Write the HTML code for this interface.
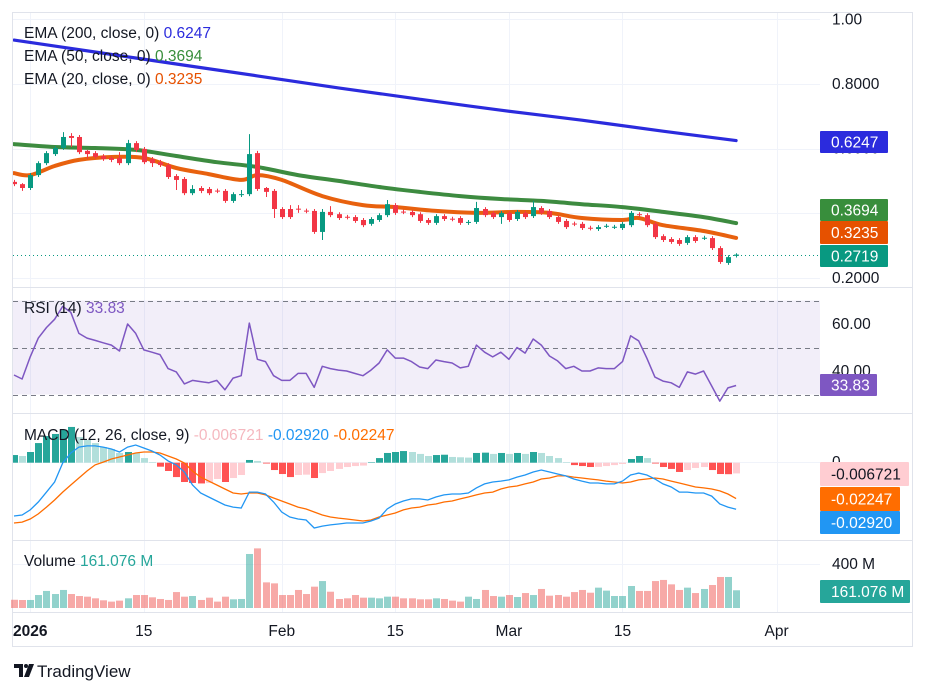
<!DOCTYPE html>
<html><head><meta charset="utf-8">
<style>
html,body{margin:0;padding:0;background:#fff;}
svg{display:block;font-family:"Liberation Sans",Arial,sans-serif;}
</style></head>
<body>
<svg id="chart" width="927" height="694" viewBox="0 0 927 694" xmlns="http://www.w3.org/2000/svg">
  <rect x="0" y="0" width="927" height="694" fill="#ffffff"/>
  <rect x="12.5" y="12.5" width="900" height="634" fill="none" stroke="#e0e3eb"/>
  <g id="grid"></g>
  <g id="panes"></g>
  <g id="labels"></g>
</svg>
<script>
// ---------- DATA ----------
const opens = [.497,.490,.478,.518,.555,.583,.602,.639,.636,.593,
.586,.577,.571,.571,.555,.617,.599,.568,.558,.549,
.515,.506,.462,.478,.475,.470,.469,.438,.456,.459,
.586,.478,.469,.413,.413,.414,.408,.407,.342,.404,
.397,.389,.388,.379,.367,.379,.394,.425,.405,.404,
.397,.379,.370,.391,.383,.385,.370,.373,.413,.401,
.388,.401,.382,.401,.391,.416,.407,.388,.376,.368,
.367,.355,.351,.359,.356,.354,.363,.397,.394,.367,
.329,.320,.317,.308,.326,.322,.323,.292,.246,.268];
const closes = [.490,.478,.518,.555,.586,.602,.636,.633,.589,.583,
.574,.568,.565,.555,.617,.596,.558,.555,.549,.512,
.503,.462,.475,.469,.462,.468,.438,.459,.459,.583,
.475,.466,.413,.388,.388,.412,.406,.342,.404,.394,
.385,.387,.376,.363,.382,.394,.428,.401,.403,.394,
.376,.370,.391,.382,.381,.370,.373,.416,.394,.388,
.401,.379,.404,.388,.419,.401,.388,.373,.357,.366,
.354,.353,.357,.361,.358,.367,.401,.394,.363,.326,
.317,.311,.305,.326,.314,.324,.292,.249,.264,.2719];
const highs = [.503,.493,.524,.561,.592,.608,.651,.648,.642,.596,
.592,.583,.577,.589,.627,.623,.605,.574,.565,.555,
.521,.512,.487,.484,.481,.476,.475,.465,.472,.645,
.593,.481,.475,.419,.425,.425,.414,.413,.413,.422,
.403,.395,.394,.385,.388,.400,.441,.431,.411,.410,
.403,.385,.397,.397,.389,.391,.379,.435,.419,.407,
.407,.407,.410,.407,.438,.422,.413,.394,.382,.374,
.373,.361,.363,.367,.364,.373,.407,.403,.400,.373,
.335,.326,.323,.332,.332,.330,.329,.298,.270,.276];
const lows = [.484,.469,.472,.512,.549,.577,.596,.605,.583,.568,
.568,.562,.558,.549,.549,.589,.552,.543,.543,.506,
.472,.456,.456,.462,.456,.462,.432,.432,.450,.453,
.469,.450,.385,.382,.382,.401,.400,.336,.317,.388,
.379,.381,.370,.357,.361,.373,.388,.395,.397,.388,
.370,.364,.364,.376,.375,.364,.364,.367,.388,.382,
.367,.373,.376,.382,.385,.395,.382,.367,.351,.360,
.348,.347,.345,.354,.351,.348,.357,.388,.357,.320,
.311,.305,.299,.302,.308,.317,.286,.243,.240,.263];
const volumesM = [75,72.7,73,118,155,127,164,127,109,103,
88,70,58,67,88,118,118,97,82,73,145,
103,109,73,94,58,103,79,82,491,542,
233,224,118,118,164,127,194,245,148,82,
88,118,94,94,88,103,103,88,88,
79,79,88,82,67,58,103,82,164,109,
103,118,100,136,118,173,112,118,103,145,
164,139,185,158,109,109,200,155,155,245,
255,215,164,185,136,173,209,282,282,161.076];
const ema200Idx = [0,10,20,30,40,50,60,70,80,89];
const ema200 = [.936,.899,.862,.825,.788,.753,.719,.688,.654,.6247];
const ema50Idx = [0,5,10,15,20,25,30,35,40,45,50,55,60,65,70,75,80,85,89];
const ema50 = [.614,.605,.602,.596,.577,.558,.543,.518,.500,.481,.466,.453,.444,.438,.428,.419,.404,.388,.3694];
const ema20Idx = [0,2,5,8,12,16,20,24,28,30,33,38,43,47,52,57,62,66,70,75,77,80,85,89];
const ema20 = [.524,.518,.546,.565,.574,.571,.540,.521,.503,.518,.503,.453,.425,.419,.407,.401,.404,.401,.385,.379,.385,.363,.345,.3235];
const rsi = [38.3,36.6,46,54,58.5,62,67.5,65,56,54,
53,52,51,48.5,60,56,49,48,47,41,
39.6,34.5,36,35.5,35,36,32,37,38,60.4,
45,44,38,36,36,39,39,33,42,41,
40.4,40,39,38,40.4,43.4,49,45.5,45.5,44,
41.7,41,44.7,44,43.4,41.3,42,51,48,46,
48,45,50,47.6,53.6,51,46.4,44.3,41,42,
40,40,41.3,41,41,44,55,52.8,45.5,37.4,
35.7,35,33,39.6,38.7,40,33.6,27.2,32.8,33.83];
// MACD values in thousandths (x 1e-3)
const macdLine = [-33.4,-32.8,-29.6,-24.6,-18.4,-12.1,-0.2,6.1,9.8,10.5,
10.5,9.8,8.6,6.7,9.8,11.1,9.2,7.3,4.8,1.1,
-1.4,-5.8,-14.0,-19.0,-21.5,-24.0,-26.5,-27.8,-28.4,-18.4,
-18.4,-19.6,-24.6,-30.9,-34.0,-35.3,-35.9,-40.9,-39.7,-39.0,
-38.4,-37.8,-37.8,-37.8,-36.5,-34.7,-29.0,-25.9,-24.0,-22.7,
-22.7,-23.4,-21.5,-20.2,-19.6,-19.6,-19.0,-15.8,-13.3,-12.1,
-11.5,-10.8,-9.0,-7.7,-5.8,-4.6,-5.8,-7.1,-8.3,-10.2,
-11.5,-12.7,-12.7,-13.3,-13.3,-11.5,-7.7,-6.5,-7.7,-10.2,
-13.3,-15.2,-18.4,-18.4,-19.0,-19.0,-20.9,-25.9,-27.8,-29.2];
const signalLine = [-37.8,-37.2,-35.3,-32.1,-27.8,-23.4,-18.4,-14.0,-9.6,-5.2,
-1.4,0.4,2.3,3.6,4.8,6.1,6.7,6.7,6.1,4.2,
2.3,-0.2,-5.2,-9.0,-11.5,-14.0,-16.5,-19.0,-19.6,-19.0,
-19.0,-20.2,-22.1,-24.0,-25.9,-27.8,-29.0,-30.9,-32.8,-34.0,
-34.7,-35.3,-35.9,-36.5,-35.9,-34.0,-32.8,-31.5,-29.6,-28.4,
-27.8,-26.5,-25.9,-24.6,-24.0,-22.7,-21.5,-20.2,-19.0,-18.4,
-16.5,-15.2,-14.6,-13.3,-12.1,-10.2,-9.6,-8.3,-8.3,-9.0,
-9.6,-10.2,-10.8,-11.5,-12.1,-12.7,-12.1,-10.8,-10.2,-9.6,
-10.2,-11.5,-12.7,-14.0,-15.2,-15.8,-16.5,-17.7,-19.6,-22.47];
const macdHist = [4.8,4.2,6.7,12.3,16.7,18.0,20.5,22.4,16.1,14.2,
12.3,9.8,8.6,6.1,6.7,6.1,2.9,0.4,-2.5,-5.2,
-9.0,-12.1,-12.7,-13.0,-12.7,-10.2,-12.1,-9.6,-7.7,1.7,
1.1,-0.5,-4.6,-7.1,-9.0,-7.7,-7.5,-9.6,-6.5,-5.2,
-3.9,-2.7,-2.1,-1.8,0.3,2.9,6.1,6.7,7.3,6.7,
5.5,4.2,4.8,5.0,3.6,3.4,3.2,6.1,6.3,5.5,
6.1,5.5,6.1,5.5,6.7,6.1,4.2,2.9,0.4,-1.5,
-2.1,-2.7,-2.6,-2.1,-1.5,-0.8,2.3,4.2,2.9,-0.5,
-2.7,-3.9,-5.8,-4.6,-3.3,-2.7,-4.6,-7.1,-7.2,-6.721];
const priceTicks = ["1.00","0.8000","0.6000","0.4000","0.2000"];
const priceTickVals = [1.0,0.8,0.6,0.4,0.2];
const rsiTicks = ["60.00","40.00"];
const rsiTickVals = [60,40];
const timeLabels = ["2026","15","Feb","15","Mar","15","Apr"];
const timeDayIdx = [2,16,33,47,61,75,94];

// ---------- SCALES ----------
const X0 = 14, STEP = 8.113;
const xOf = i => X0 + i*STEP;
const yPrice = p => 84 + (0.8 - p)*323;
const yRsi = v => 324 + (60 - v)*2.35;
const yMacd = m => 462.7 - m*1.596;
const yVol = v => 608 - v*0.11;
const FS = 15.5;

const NS = "http://www.w3.org/2000/svg";
function mk(tag, attrs, parent){
  const e = document.createElementNS(NS, tag);
  for (const k in attrs) e.setAttribute(k, attrs[k]);
  parent.appendChild(e);
  return e;
}
const grid = document.getElementById('grid');
const panes = document.getElementById('panes');
const labels = document.getElementById('labels');

// ---------- GRID ----------
timeDayIdx.forEach((d,k)=>{
  const gx = Math.round(xOf(d)) + 0.5;
  const l = mk('line',{x1:gx,x2:gx,y1:13,y2:612,stroke:'#f0f3fa','stroke-width':1},grid);
  
  
});
priceTickVals.forEach(v=>{
  const gy = Math.round(yPrice(v))+0.5;
  const l = mk('line',{x1:13,x2:820,y1:gy,y2:gy,stroke:'#f0f3fa'},grid);
  
  
});
[287.5,413.5,540.5,612.5].forEach(y=>{
  const l = mk('line',{x1:13,x2:912,y1:y,y2:y,stroke:'#e0e3eb'},grid);
  
  
});
{
  const l = mk('line',{x1:13,x2:820,y1:462.5,y2:462.5,stroke:'#f0f3fa'},grid);
  
  
  const l2 = mk('line',{x1:13,x2:820,y1:564.5,y2:564.5,stroke:'#f0f3fa'},grid);
  
  
}

// ---------- MAIN PANE ----------
const defs = mk('defs',{},panes);
const cp = mk('clipPath',{id:'clipMain'},defs);
mk('rect',{x:13,y:13,width:807,height:274},cp);
const cp2 = mk('clipPath',{id:'clipMacd'},defs);
mk('rect',{x:13,y:414,width:807,height:126},cp2);
const main = mk('g',{'clip-path':'url(#clipMain)'},panes);



function smoothPath(pts){
  let d = `M${pts[0][0]},${pts[0][1]}`;
  for (let k=0;k<pts.length-1;k++){
    const p0 = pts[Math.max(0,k-1)], p1 = pts[k], p2 = pts[k+1], p3 = pts[Math.min(pts.length-1,k+2)];
    const c1x = p1[0]+(p2[0]-p0[0])/6, c1y = p1[1]+(p2[1]-p0[1])/6;
    const c2x = p2[0]-(p3[0]-p1[0])/6, c2y = p2[1]-(p3[1]-p1[1])/6;
    d += ` C${c1x.toFixed(1)},${c1y.toFixed(1)} ${c2x.toFixed(1)},${c2y.toFixed(1)} ${p2[0].toFixed(1)},${p2[1].toFixed(1)}`;
  }
  return d;
}
function linePath(vals, yf){
  return vals.map((v,i)=>(i?'L':'M')+xOf(i).toFixed(1)+','+yf(v).toFixed(1)).join(' ');
}

// current price dotted line
{
  const cy = Math.round(yPrice(closes[closes.length-1]))+0.5;
  const l = mk('line',{x1:13,x2:820,y1:cy,y2:cy,stroke:'#089981','stroke-dasharray':'1 3'},panes);
  
  
}

// EMAs
{
  const e200 = mk('path',{d:smoothPath(ema200Idx.map((ix,k)=>[xOf(ix),yPrice(ema200[k])])),fill:'none',stroke:'#2b2bdd','stroke-width':3.2,'stroke-linecap':'round'},main);
  
  
  const e50 = mk('path',{d:smoothPath(ema50Idx.map((ix,k)=>[xOf(ix),yPrice(ema50[k])])),fill:'none',stroke:'#3d8b40','stroke-width':4,'stroke-linecap':'round'},main);
  
  
  const e20 = mk('path',{d:smoothPath(ema20Idx.map((ix,k)=>[xOf(ix),yPrice(ema20[k])])),fill:'none',stroke:'#e8610e','stroke-width':4,'stroke-linecap':'round'},main);
  
  
}

// candles
opens.forEach((o,i)=>{
  const c = closes[i], up = c >= o;
  const col = up ? '#089981' : '#f23645';
  const cx = Math.round(xOf(i));
  const g = mk('g',{},main);
  
  
  mk('line',{x1:cx+0.5,x2:cx+0.5,y1:yPrice(highs[i]),y2:yPrice(lows[i]),stroke:col,'stroke-width':1},g);
  const top = yPrice(Math.max(o,c)), bot = yPrice(Math.min(o,c));
  mk('rect',{x:cx-2,y:top,width:5,height:Math.max(1,bot-top),fill:col},g);
});

// ---------- RSI PANE ----------
{
  const band = mk('rect',{x:13,y:yRsi(70),width:807,height:yRsi(30)-yRsi(70),fill:'#7e57c2','fill-opacity':0.1},panes);
  
  
  [70,50,30].forEach(v=>{
    const y = Math.round(yRsi(v))+0.5;
    const l = mk('line',{x1:13,x2:820,y1:y,y2:y,stroke:'#787b86','stroke-dasharray':'5 4'},panes);
    
    
  });
  const r = mk('path',{d:linePath(rsi,yRsi),fill:'none',stroke:'#7e57c2','stroke-width':1.5,'stroke-linejoin':'round'},panes);
  
  
}

// ---------- MACD PANE ----------
{
  const mg = mk('g',{'clip-path':'url(#clipMacd)'},panes);
  
  
  macdHist.forEach((h,i)=>{
    const prev = i ? macdHist[i-1] : h;
    let col;
    if (h >= 0) col = h >= prev ? '#26a69a' : '#b2dfdb';
    else col = h <= prev ? '#ff5252' : '#ffcdd2';
    const y0 = yMacd(0), y1 = yMacd(h);
    const b = mk('rect',{x:Math.round(xOf(i))-3,y:Math.min(y0,y1),width:7,height:Math.max(0.5,Math.abs(y1-y0)),fill:col},mg);
    
    
  });
  const s = mk('path',{d:linePath(signalLine,yMacd),fill:'none',stroke:'#ff6d00','stroke-width':1.3},mg);
  
  
  const m = mk('path',{d:linePath(macdLine,yMacd),fill:'none',stroke:'#2196f3','stroke-width':1.3},mg);
  
  
}

// ---------- VOLUME PANE ----------
volumesM.forEach((v,i)=>{
  const up = closes[i] >= opens[i];
  const y = yVol(v);
  const b = mk('rect',{x:Math.round(xOf(i))-3,y:y,width:7,height:608-y,fill:up?'#26a69a':'#ef5350','fill-opacity':0.5},panes);
  
  
});

// ---------- TEXT ----------
function txt(x,y,s,attrs,parent,name,inter){
  const t = mk('text',Object.assign({x:x,y:y,'font-size':FS,fill:'#131722'},attrs||{}),parent||labels);
  t.textContent = s;
  
  
  return t;
}
priceTicks.forEach((s,k)=>{
  txt(832,yPrice(priceTickVals[k])+5,s,{},labels,'price-tick-label');
});
rsiTicks.forEach((s,k)=>{
  txt(832,yRsi(rsiTickVals[k])+5,s,{},labels,'rsi-tick-label');
});
txt(832,467,'0',{},labels,'macd-zero-label');
txt(832,569,'400 M',{},labels,'volume-tick-label');
timeLabels.forEach((s,k)=>{
  txt(xOf(timeDayIdx[k]),636,s,{'text-anchor':'middle','font-weight':k===0?'bold':'normal'},labels,'time-axis-label');
});

function tag(x,y,w,h,bg,fg,s,name){
  const g = mk('g',{},labels);
  
  
  mk('rect',{x:x,y:y,width:w,height:h,fill:bg,rx:1},g);
  const t = mk('text',{x:x+11,y:y+h/2+5.5,'font-size':FS,fill:fg},g);
  t.textContent = s;
}
tag(820,131,68,22,'#2b2bdd','#ffffff','0.6247','ema-200-price-tag');
tag(820,199,68,22,'#388e3c','#ffffff','0.3694','ema-50-price-tag');
tag(820,221,68,23,'#e65100','#ffffff','0.3235','ema-20-price-tag');
tag(820,245,68,22,'#089981','#ffffff','0.2719','last-price-tag');
tag(820,374,57,22,'#7e57c2','#ffffff','33.83','rsi-value-tag');
tag(820,462,89,24,'#ffcdd2','#131722','-0.006721','macd-histogram-tag');
tag(820,487,80,24,'#ff6d00','#ffffff','-0.02247','macd-signal-tag');
tag(820,511,80,23,'#2196f3','#ffffff','-0.02920','macd-line-tag');
tag(820,580,90,23,'#26a69a','#ffffff','161.076 M','volume-value-tag');

function legend(y,parts,name){
  const t = mk('text',{x:24,y:y,'font-size':FS,fill:'#131722'},labels);
  
  
  parts.forEach(p=>{
    const s = mk('tspan',{fill:p[1]},t);
    s.textContent = p[0];
  });
}
legend(38,[['EMA (200, close, 0)  ','#131722'],['0.6247','#2b2bdd']],'ema-200-legend');
legend(61,[['EMA (50, close, 0)  ','#131722'],['0.3694','#388e3c']],'ema-50-legend');
legend(84,[['EMA (20, close, 0)  ','#131722'],['0.3235','#e65100']],'ema-20-legend');
legend(313,[['RSI (14)  ','#131722'],['33.83','#7e57c2']],'rsi-legend');
legend(440,[['MACD (12, 26, close, 9)  ','#131722'],['-0.006721  ','#f5b8bf'],['-0.02920  ','#2196f3'],['-0.02247','#ff6d00']],'macd-legend');
legend(566,[['Volume  ','#131722'],['161.076 M','#26a69a']],'volume-legend');

{
  const g = mk('g',{},labels);
  
  
  mk('path',{d:'M14 664 h9 v13 h-4 v-9 h-5 z',fill:'#131722'},g);
  mk('circle',{cx:26,cy:666,r:2,fill:'#131722'},g);
  mk('path',{d:'M29 664 h5 l-5 13 h-5 z',fill:'#131722'},g);
  const t = mk('text',{x:37,y:677,'font-size':17,fill:'#131722'},g);
  t.textContent = 'TradingView';
}
</script>
</body></html>
